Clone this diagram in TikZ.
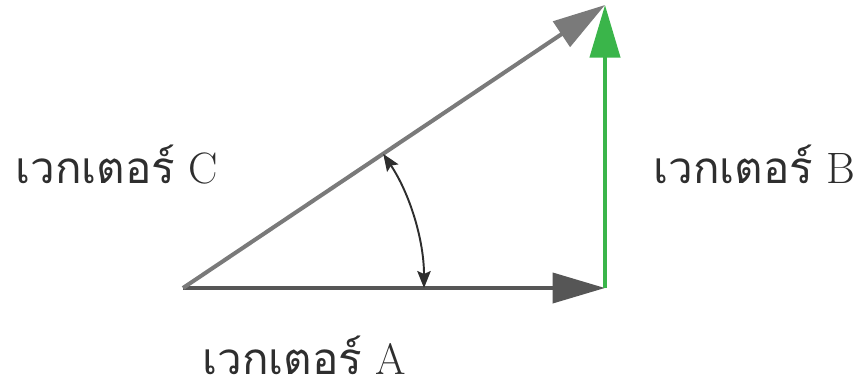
\documentclass[tikz,border=0pt]{standalone}
\usepackage{fontspec}
\newfontfamily\thaifont[Script=Thai]{Loma}
\usetikzlibrary{arrows.meta, calc}
\definecolor{vecA}{HTML}{565656}
\definecolor{vecC}{HTML}{7A7A7A}
\definecolor{vecB}{HTML}{3AB54A}
\definecolor{txt}{HTML}{2E2E2E}
% Thai word, then the vector's letter in the roman font
\newcommand{\veclabel}[1]{{\thaifont เวกเตอร์}~#1}

\begin{document}
\begin{tikzpicture}[
    bigtip/.style  = {-{Triangle[length=1.05cm, width=0.6cm]}},
    vecline/.style = {line width=2.3pt, bigtip},
    angarc/.style  = {line width=1.1pt, txt,
                      {Stealth[length=0.34cm, width=0.27cm, inset=0.06cm]}-{Stealth[length=0.34cm, width=0.27cm, inset=0.06cm]}},
    lbl/.style     = {txt, font=\fontsize{25}{29}\selectfont, inner sep=0pt, anchor=base west},
  ]
  \useasboundingbox (0,0) rectangle (17.12,7.7);

  % --- tail and heads of the three vectors ---------------------------------
  \coordinate (O)    at (3.66,1.94);
  \coordinate (Aend) at (12.10,1.94);
  \coordinate (Bend) at (12.10,7.60);

  % --- the vectors ---------------------------------------------------------
  \draw[vecline, vecA] (O) -- (Aend);
  \draw[vecline, vecB] (Aend) -- (Bend);
  \draw[vecline, vecC] (O) -- (Bend);

  % --- the angle between A and C -------------------------------------------
  \draw[angarc] ($(O)+(33.8:4.82)$) arc (33.8:0:4.82);

  % --- labels --------------------------------------------------------------
  \node[lbl] (labA) at (4.04,0.22) {\veclabel{A}};
  \node[lbl] (labB) at (13.06,4.04) {\veclabel{B}};
  \node[lbl] (labC) at (0.30,4.04) {\veclabel{C}};

\end{tikzpicture}
\end{document}
